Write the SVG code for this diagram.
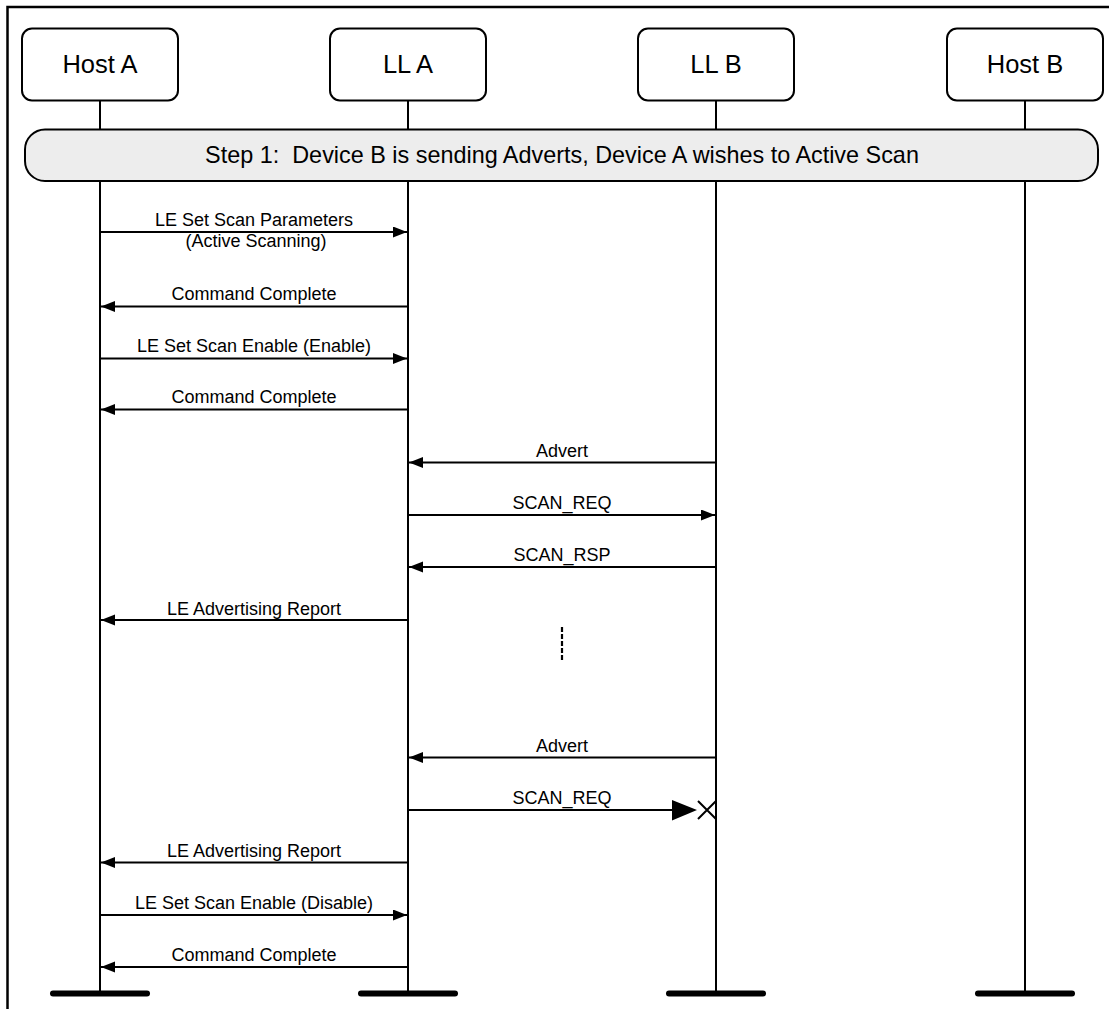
<svg xmlns="http://www.w3.org/2000/svg" width="1109" height="1009" viewBox="0 0 1109 1009">
<style>
.box{fill:#fff;stroke:#000;stroke-width:2}
.life{stroke:#000;stroke-width:2;fill:none}
.bar{stroke:#000;stroke-width:6;stroke-linecap:round}
.title{font-family:"Liberation Sans",Arial,sans-serif;font-size:25.5px;text-anchor:middle;fill:#000}
.lbl{font-family:"Liberation Sans",Arial,sans-serif;font-size:18px;text-anchor:middle;fill:#000}
.band{font-family:"Liberation Sans",Arial,sans-serif;font-size:23.4px;text-anchor:middle;fill:#000;white-space:pre}
.msg{stroke:#000;stroke-width:2;fill:none;marker-end:url(#ah)}
</style>
<defs>
<marker id="ah" markerUnits="userSpaceOnUse" markerWidth="15" markerHeight="12" refX="14" refY="5.5" orient="auto">
<path d="M0,0 L14,5.5 L0,11 z" fill="#000"/>
</marker>
</defs>
<rect width="1109" height="1009" fill="#fff"/>
<path d="M7.5,1009 L7.5,7 L1109,7" fill="none" stroke="#000" stroke-width="2.5"/>

<g id="hostA">
<line class="life" x1="100" y1="100" x2="100" y2="993"/>
<rect class="box" x="22" y="28.5" width="156" height="72" rx="10"/>
<text class="title" x="100" y="73">Host A</text>
<line class="bar" x1="53" y1="993.5" x2="147" y2="993.5"/>
</g>
<g id="llA">
<line class="life" x1="408" y1="100" x2="408" y2="993"/>
<rect class="box" x="330" y="28.5" width="156" height="72" rx="10"/>
<text class="title" x="408" y="73">LL A</text>
<line class="bar" x1="361" y1="993.5" x2="455" y2="993.5"/>
</g>
<g id="llB">
<line class="life" x1="716" y1="100" x2="716" y2="993"/>
<rect class="box" x="638" y="28.5" width="156" height="72" rx="10"/>
<text class="title" x="716" y="73">LL B</text>
<line class="bar" x1="669" y1="993.5" x2="763" y2="993.5"/>
</g>
<g id="hostB">
<line class="life" x1="1025" y1="100" x2="1025" y2="993"/>
<rect class="box" x="947" y="28.5" width="156" height="72" rx="10"/>
<text class="title" x="1025" y="73">Host B</text>
<line class="bar" x1="978" y1="993.5" x2="1072" y2="993.5"/>
</g>

<g id="step1">
<rect x="25" y="129.5" width="1073" height="51.5" rx="20" fill="#ededed" stroke="#000" stroke-width="2"/>
<text class="band" x="562" y="163" xml:space="preserve">Step 1:  Device B is sending Adverts, Device A wishes to Active Scan</text>
</g>

<g id="connectors">
<line class="msg" x1="100" y1="232" x2="407" y2="232"/>
<text class="lbl" x="254" y="226">LE Set Scan Parameters</text>
<text class="lbl" x="256" y="247">(Active Scanning)</text>

<line class="msg" x1="408" y1="306.5" x2="101" y2="306.5"/>
<text class="lbl" x="254" y="300">Command Complete</text>

<line class="msg" x1="100" y1="358.5" x2="407" y2="358.5"/>
<text class="lbl" x="254" y="352">LE Set Scan Enable (Enable)</text>

<line class="msg" x1="408" y1="409.5" x2="101" y2="409.5"/>
<text class="lbl" x="254" y="403">Command Complete</text>

<line class="msg" x1="716" y1="462.5" x2="409" y2="462.5"/>
<text class="lbl" x="562" y="456.5">Advert</text>

<line class="msg" x1="408" y1="515" x2="715" y2="515"/>
<text class="lbl" x="562" y="509">SCAN_REQ</text>

<line class="msg" x1="716" y1="567" x2="409" y2="567"/>
<text class="lbl" x="562" y="561">SCAN_RSP</text>

<line class="msg" x1="408" y1="620" x2="101" y2="620"/>
<text class="lbl" x="254" y="614.5">LE Advertising Report</text>

<line x1="562" y1="627" x2="562" y2="662" stroke="#000" stroke-width="2.2" stroke-dasharray="5,2"/>

<line class="msg" x1="716" y1="757.5" x2="409" y2="757.5"/>
<text class="lbl" x="562" y="751.5">Advert</text>

<line x1="408" y1="810" x2="673" y2="810" stroke="#000" stroke-width="2"/>
<path d="M672,800 L697,810 L672,820.5 z" fill="#000"/>
<path d="M698,801 L716,819 M698,819 L716,801" stroke="#000" stroke-width="2" fill="none"/>
<text class="lbl" x="562" y="804">SCAN_REQ</text>

<line class="msg" x1="408" y1="862.5" x2="101" y2="862.5"/>
<text class="lbl" x="254" y="856.5">LE Advertising Report</text>

<line class="msg" x1="100" y1="915" x2="407" y2="915"/>
<text class="lbl" x="254" y="909">LE Set Scan Enable (Disable)</text>

<line class="msg" x1="408" y1="967" x2="101" y2="967"/>
<text class="lbl" x="254" y="961">Command Complete</text>
</g>
</svg>
